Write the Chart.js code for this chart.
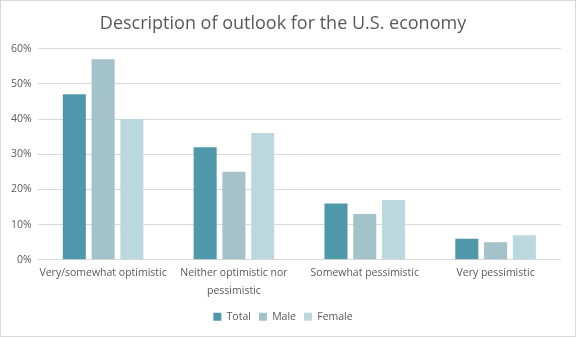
<!DOCTYPE html>
<html>
<head>
<meta charset="utf-8">
<script src="https://cdn.jsdelivr.net/npm/chart.js@4"></script>
<style>
  html, body { margin: 0; padding: 0; background: #fff; }
  #wrap { width: 576px; height: 337px; box-sizing: border-box; border: 1px solid #d9d9d9; position: relative; }
</style>
</head>
<body>
<div id="wrap"><canvas id="chart"></canvas></div>
<script>
// DATA
const categories = [
  "Very/somewhat optimistic",
  ["Neither optimistic nor", "pessimistic"],
  "Somewhat pessimistic",
  "Very pessimistic"
];
const totalValues = [47, 32, 16, 6];
const maleValues = [57, 25, 13, 5];
const femaleValues = [40, 36, 17, 7];
const yTicks = [0, 10, 20, 30, 40, 50, 60];

const font = "'Open Sans', 'Noto Sans', sans-serif";
const textColor = "#595959";

new Chart(document.getElementById("chart").getContext("2d"), {
  type: "bar",
  data: {
    labels: categories,
    datasets: [
      { label: "Total", data: totalValues, backgroundColor: "#4f98ab" },
      { label: "Male", data: maleValues, backgroundColor: "#a4c2ca" },
      { label: "Female", data: femaleValues, backgroundColor: "#bbd8df" }
    ]
  },
  options: {
    responsive: true,
    maintainAspectRatio: false,
    animation: false,
    datasets: { bar: { categoryPercentage: 0.66, barPercentage: 0.8 } },
    layout: { padding: { left: 4, right: 14, top: 0, bottom: 4 } },
    plugins: {
      title: {
        display: true,
        text: "Description of outlook for the U.S. economy",
        color: textColor,
        font: { family: font, size: 18, weight: "normal" },
        padding: { top: 12, bottom: 14 }
      },
      legend: {
        position: "bottom",
        labels: {
          color: textColor,
          font: { family: font, size: 10.5 },
          boxWidth: 8,
          boxHeight: 8,
          padding: 8
        }
      },
      tooltip: { enabled: false }
    },
    scales: {
      y: {
        min: 0,
        max: 60,
        afterBuildTicks: axis => { axis.ticks = yTicks.map(v => ({ value: v })); },
        ticks: {
          color: textColor,
          font: { family: font, size: 10.5 },
          padding: 6,
          callback: v => v + "%"
        },
        grid: { color: "#d9d9d9", drawTicks: false },
        border: { display: false }
      },
      x: {
        ticks: {
          color: textColor,
          font: { family: font, size: 10.5, lineHeight: 1.7 },
          maxRotation: 0,
          autoSkip: false,
          padding: 4
        },
        grid: { display: false, drawTicks: false },
        border: { display: false }
      }
    }
  }
});
</script>
</body>
</html>
